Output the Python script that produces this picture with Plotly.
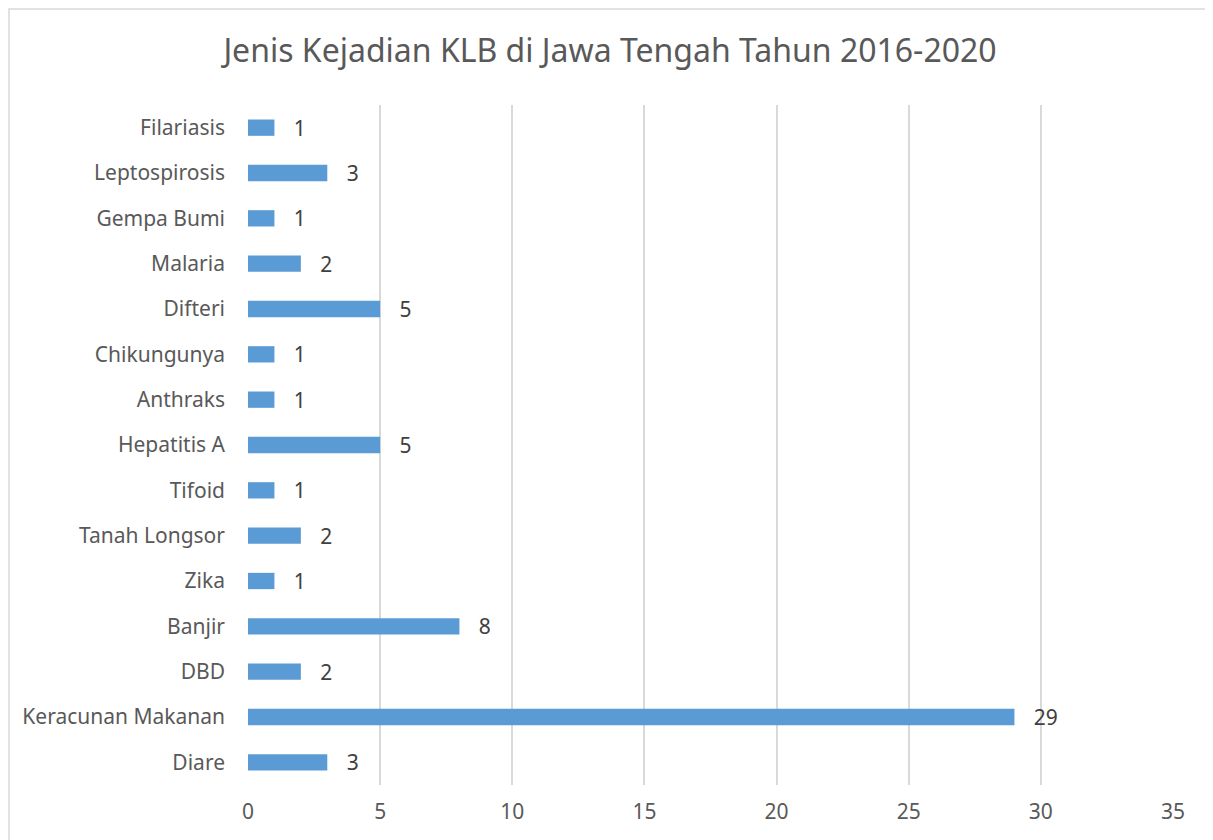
import plotly.graph_objects as go

# data (bottom to top, as plotted)
categories = ['Diare', 'Keracunan Makanan', 'DBD', 'Banjir', 'Zika', 'Tanah Longsor',
              'Tifoid', 'Hepatitis A', 'Anthraks', 'Chikungunya', 'Difteri', 'Malaria',
              'Gempa Bumi', 'Leptospirosis', 'Filariasis']
values = [3, 29, 2, 8, 1, 2, 1, 5, 1, 1, 5, 2, 1, 3, 1]
x_ticks = [0, 5, 10, 15, 20, 25, 30, 35]

font_name = 'Noto Sans'
# page body adds an 8px offset, so positions below are shifted by that
off = 8
W, H = 1213, 840
left, right, top, bottom = 248 - off, 1173 - off, 105 - off, 785 - off

fig = go.Figure()

fig.add_trace(
    go.Bar(
        x=values,
        y=categories,
        orientation='h',
        marker=dict(color='#5b9bd5', line=dict(width=0)),
        texttemplate='   %{x}',
        textposition='outside',
        constraintext='none',
        textfont=dict(family=font_name, size=21, color='#404040'),
        cliponaxis=False,
    )
)

fig.update_layout(
    width=W,
    height=H,
    paper_bgcolor='white',
    plot_bgcolor='white',
    showlegend=False,
    bargap=0.64,
    margin=dict(l=left, r=W - right, t=top, b=H - bottom),
    title=dict(
        text='Jenis Kejadian KLB di Jawa Tengah Tahun 2016-2020',
        x=(610 - off) / W, xanchor='center', xref='container',
        y=1 - (51 - off) / H, yanchor='middle',
        font=dict(family=font_name, size=32, color='#595959'),
    ),
    font=dict(family=font_name, size=21, color='#595959'),
)

fig.update_xaxes(
    range=[0, 35],
    tickvals=x_ticks,
    showgrid=True,
    gridcolor='#d9d9d9',
    gridwidth=1.5,
    zeroline=False,
    showline=False,
    ticks='',
    ticklabelstandoff=12,
    tickfont=dict(size=21, color='#595959'),
)

fig.update_yaxes(
    type='category',
    categoryorder='array',
    categoryarray=categories,
    showgrid=False,
    zeroline=False,
    showline=False,
    ticks='',
    ticklabelstandoff=22,
    tickfont=dict(size=21, color='#595959'),
)

# chart frame (left/top visible, right/bottom beyond the cropped image)
pw, ph = right - left, bottom - top
fig.add_shape(
    type='rect', xref='paper', yref='paper',
    x0=(1 - left) / pw, x1=1.2, y0=-0.3, y1=(bottom - 1) / ph,
    line=dict(color='#d9d9d9', width=1.5), fillcolor='rgba(0,0,0,0)',
    layer='below',
)

fig.write_html('out.html')
